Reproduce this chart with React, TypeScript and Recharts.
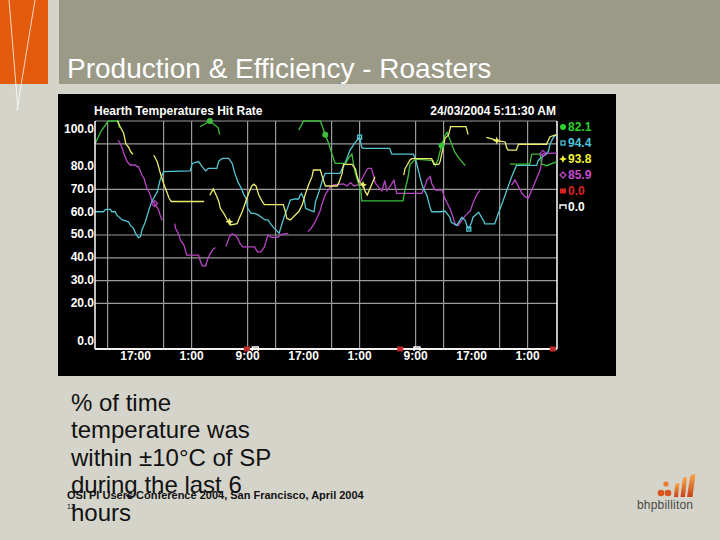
import React from 'react';
import { LineChart, Line, XAxis, YAxis, ReferenceLine } from 'recharts';

type Pt = [number, number | null];
type Shape = 'circle' | 'box' | 'star' | 'diamond' | 'square' | 'cap';

// x = hours since window start (21/03/2004 11:11:30), y = hit rate %
const green: Pt[] = [
  [0, 90], [0.9, 95.7], [1.9, 100], [3.3, 100], [3.5, 97], [3.6, null],
  [15.0, 97.5], [16.4, 100], [17.6, 97], [17.8, 94], [17.9, null],
  [29.1, 96], [29.8, 100], [32.2, 100], [32.9, 94], [33.4, 90], [33.8, 86], [34.3, 81.4],
  [35.8, 81.4], [36.3, 84], [36.7, 85.5], [37.1, 78], [37.6, 73], [38.0, 69], [38.1, 65],
  [44.0, 65], [44.3, 70], [44.7, 75], [45.0, 81], [45.8, 83.3], [48.3, 82.6], [48.6, 80.4],
  [49.0, 83], [49.5, 89.2], [50.0, 93.6], [50.3, 95], [50.7, 92], [51.4, 86.3], [52.1, 83.3],
  [52.9, 80.4], [53.0, null],
  [59.3, 81.1], [62.1, 81.1], [62.4, 85.5], [63.6, 85.5], [63.8, 81.1], [64.5, 80.4], [65.9, 82.1], [66, 82.1],
];

const cyan: Pt[] = [
  [0, 60.2], [1.2, 60.2], [1.5, 61.2], [2.2, 61.2], [2.4, 60.2], [2.9, 60.2], [3.1, 58.8], [3.9, 56.6],
  [4.8, 55.8], [5.0, 54.4], [5.5, 52.9], [5.8, 50.7], [6.2, 48.8], [6.5, 49.3], [6.7, 52.2], [7.2, 55.8],
  [7.7, 61], [8.1, 64.6], [8.9, 69], [9.3, 74.1], [9.8, 77.8], [13.6, 78.1], [13.9, 81.4], [14.8, 82.2],
  [15.3, 80], [15.8, 78.1], [16.2, 79.2], [17.4, 79.2], [17.7, 82.5], [18.2, 83.6], [19.1, 83.6],
  [19.6, 81.4], [19.9, 77.8], [20.4, 73.4], [20.9, 70.5], [21.3, 67.5], [21.6, 66], [21.8, 61.7],
  [22.3, 59.5], [22.8, 59.5], [23.3, 58.8], [24.3, 56.6], [24.7, 56.6], [25.2, 54.4], [25.6, 52.9],
  [26.1, 51.5], [26.3, 50.7], [26.8, 55.8], [27.2, 59.5], [27.5, 61.7], [27.9, 65.3], [28.6, 65.8],
  [29.1, 65.8], [29.3, 67.5], [29.5, 68.2], [29.9, 65.3], [30.1, 61.7], [30.6, 61], [31.3, 60.2],
  [31.5, 64.6], [32.0, 69], [32.5, 74.1], [32.9, 77], [35.0, 77], [35.3, 79], [35.7, 81.3], [36.4, 87],
  [37.1, 90.3], [37.8, 92.9], [38.1, 88.5], [38.3, 88], [42.1, 88], [42.4, 85.5], [45.5, 85.5],
  [45.9, 82], [46.3, 77], [46.6, 73.4], [46.9, 70.5], [47.4, 67.5], [47.9, 61.7], [48.1, 60.2],
  [49.4, 60.2], [50.0, 60.5], [50.7, 57.8], [50.9, 55.6], [51.7, 54.2], [52.4, 57.8], [52.9, 56.3],
  [53.1, 54.2], [53.4, 52.6], [53.8, 55.6], [54.0, 57.8], [54.8, 60], [55.5, 56.3], [55.7, 54.9],
  [57.1, 54.9], [57.6, 59.3], [58.3, 65], [58.8, 69.4], [59.5, 75.3], [60.2, 80.5], [63.1, 80.5],
  [63.3, 82.6], [63.8, 84], [64.5, 85.5], [64.8, 87], [65.0, 89.9], [65.5, 92.9], [66, 94.4],
];

const yellow: Pt[] = [
  [3.2, 100], [3.6, 97.5], [4.1, 94.6], [4.4, 90], [4.8, 88.5], [5.1, 86.5], [5.4, 85.4], [5.5, null],
  [8.4, 85], [8.9, 82], [9.3, 77.5], [9.8, 72.6], [10.3, 68.5], [10.6, 66], [10.9, 64.7], [15.6, 64.7], [15.7, null],
  [16.4, 67.5], [16.9, 70.2], [17.3, 67.5], [17.7, 64.6], [17.9, 61.7], [18.4, 59.5], [18.9, 56.6],
  [19.2, 55.8], [19.4, 54.4], [20.3, 55], [20.6, 57.3], [21.0, 60], [21.4, 63.5], [21.9, 68], [22.4, 71.5],
  [22.7, 72.3], [23.0, 71.5], [23.4, 67.5], [23.9, 64.6], [24.2, 63.3], [26.9, 63.3], [27.2, 60.2],
  [27.4, 57.3], [27.9, 56.6], [28.6, 58.8], [29.1, 60.2], [29.6, 63.2], [30.0, 67.5], [30.5, 71.9],
  [31.0, 75.6], [31.2, 78.5], [32.2, 78.5], [32.4, 76.3], [32.7, 73.4], [32.9, 71.5], [34.6, 71.5],
  [34.9, 73.4], [35.3, 77], [35.5, 81], [36.7, 81], [37.2, 79], [37.4, 76.3], [37.7, 73.4], [38.3, 72],
  [38.6, 69], [38.9, 67.5], [39.3, 70.5], [39.6, 72.7], [40.0, 75.6], [40.1, null],
  [44.1, 76.3], [44.3, 79.2], [44.6, 80.7], [45.0, 82.9], [45.3, 83.5], [48.1, 83.5], [48.4, 81],
  [49.1, 81], [49.3, 82.2], [49.6, 86.5], [50.0, 92.4], [50.5, 93.9], [50.8, 97.5], [53.0, 97.5],
  [53.3, 94], [53.4, null],
  [55.9, 92.8], [56.7, 92.2], [57.4, 91.4], [58.6, 90.8], [58.8, 88.3], [59.0, 87.2], [60.2, 87.2],
  [60.5, 89.8], [64.5, 89.8], [65.0, 93.1], [65.7, 93.8], [66, 93.8],
];

const magenta: Pt[] = [
  [3.3, 91.5], [3.6, 90.2], [3.9, 88], [4.1, 85.8], [4.3, 84.4], [4.6, 82.2], [5.0, 80.7], [5.8, 80.7],
  [6.0, 80], [6.2, 80], [6.5, 77.8], [6.7, 76.3], [7.0, 74.9], [7.2, 72.7], [7.4, 70.5], [7.7, 69],
  [7.9, 67.5], [8.1, 65.3], [8.5, 63.8], [9.1, 61], [9.3, 58.8], [9.6, 56.5], [9.7, null],
  [11.4, 55], [11.5, 52.9], [12.0, 50], [12.2, 47.8], [12.7, 45.6], [12.9, 43.4], [13.1, 41.2],
  [14.8, 41.2], [15.0, 39], [15.3, 36.5], [15.8, 36.5], [16.1, 39.5], [16.4, 41.5], [16.8, 43.5],
  [17.2, 44.5], [17.3, null],
  [18.7, 45], [19.2, 49.2], [19.6, 50.5], [20.0, 50], [20.4, 48.5], [20.7, 46.3], [21.1, 44.8],
  [22.8, 44.8], [23.2, 42.6], [23.7, 42.6], [24.2, 44.8], [24.7, 50], [25.2, 49], [26.1, 49],
  [26.6, 50.3], [27.6, 50.7], [27.7, null],
  [30.4, 51.5], [30.9, 53], [31.4, 55.5], [31.9, 58.8], [32.2, 61], [32.4, 63.2], [32.7, 66.1],
  [33.0, 68.3], [33.5, 70.5], [34.1, 72], [35.5, 72.4], [36.0, 71.5], [36.5, 73], [37.0, 71.5],
  [37.6, 72], [38.2, 75], [38.8, 78.5], [39.0, 79.2], [39.5, 79.2], [39.8, 76], [40.0, 73], [40.5, 71],
  [41.0, 69.4], [41.4, 73.9], [41.7, 69.4], [42.2, 71.5], [42.7, 74], [43.1, 68.3], [46.7, 68.3],
  [47.2, 71.9], [47.4, 74.1], [47.9, 75.6], [48.1, 72.6], [48.6, 69.7], [49.6, 69.7], [49.9, 66.5],
  [50.3, 64], [50.8, 61], [51.2, 57.3], [51.5, 54.4], [51.9, 54.2], [52.4, 56.5], [52.9, 58.5],
  [53.6, 60.5], [54.0, 64], [54.5, 67.5], [55.0, 69.6], [55.1, null],
  [59.5, 71.9], [60.0, 74.1], [60.5, 71.2], [61.0, 68.3], [61.4, 66.8], [61.9, 66.1], [62.1, 67.5],
  [62.6, 71.2], [63.1, 74.9], [63.6, 78.5], [63.8, 82.2], [64.0, 85.8], [66, 85.9],
];

const redZero: Pt[] = [[0, 0], [21.7, 0], [43.6, 0], [65.4, 0], [66, 0]];
const whiteZero: Pt[] = [[0, 0], [22.9, 0], [46.0, 0], [66, 0]];

// where each trace shows its marker symbol
const greenMarks = [16.4, 32.9, 49.5];
const cyanMarks = [37.8, 53.4];
const yellowMarks = [19.2, 38.3, 57.4];
const magentaMarks = [8.5, 64.0];
const redMarks = [21.7, 43.6, 65.4];
const whiteMarks = [22.9, 46.0];

const xTicks = [5.8, 13.8, 21.8, 29.8, 37.8, 45.8, 53.8, 61.8];
const xTickLabels = ['17:00', '1:00', '9:00', '17:00', '1:00', '9:00', '17:00', '1:00'];
const xGrid = [1.8, 9.8, 13.8, 21.8, 25.8, 33.8, 37.8, 45.8, 49.8, 57.8, 61.8];
const yTicks = [0, 20, 30, 40, 50, 60, 70, 80, 100];
const yGrid = [20, 30, 40, 50, 70, 90, 100];

const legendItems: { label: string; color: string; shape: Shape }[] = [
  { label: '82.1', color: '#2ed12e', shape: 'circle' },
  { label: '94.4', color: '#4cc4dc', shape: 'box' },
  { label: '93.8', color: '#f2f23a', shape: 'star' },
  { label: '85.9', color: '#c64ccc', shape: 'diamond' },
  { label: '0.0', color: '#dd2222', shape: 'square' },
  { label: '0.0', color: '#ffffff', shape: 'cap' },
];

const C = {
  green: '#3cbf3c',
  cyan: '#52c6d2',
  yellow: '#ecec6e',
  magenta: '#b845c6',
  red: '#c42a2a',
  grid: '#9a9a9a',
};

const FONT = '"Liberation Sans", Arial, sans-serif';

const rows = (pts: Pt[]) => pts.map(([h, v]) => ({ h, v }));
const baseRows = rows(cyan);

function Marker({ shape, color, x, y }: { shape: Shape; color: string; x: number; y: number }) {
  switch (shape) {
    case 'circle':
      return <circle cx={x} cy={y} r={3} fill={color} />;
    case 'box':
      return <rect x={x - 2} y={y - 2} width={4} height={4} fill="none" stroke={color} strokeWidth={1.3} />;
    case 'star':
      return (
        <path
          d={`M${x},${y - 4} L${x + 1.2},${y - 1.2} L${x + 4},${y} L${x + 1.2},${y + 1.2} L${x},${y + 4} L${x - 1.2},${y + 1.2} L${x - 4},${y} L${x - 1.2},${y - 1.2} Z`}
          fill={color}
        />
      );
    case 'diamond':
      return <path d={`M${x},${y - 3} L${x + 3},${y} L${x},${y + 3} L${x - 3},${y} Z`} fill="none" stroke={color} strokeWidth={1.2} />;
    case 'square':
      return <rect x={x - 3} y={y - 2.5} width={6} height={5} fill={color} />;
    default:
      return <path d={`M${x - 3},${y + 2} V${y - 2} H${x + 3} V${y + 2}`} fill="none" stroke={color} strokeWidth={1.4} />;
  }
}

const makeDot = (marks: number[], shape: Shape, color: string) => (p: any) => {
  const key = `d-${shape}-${p.index}`;
  if (p.cx == null || p.cy == null || !p.payload || !marks.includes(p.payload.h)) return <g key={key} />;
  return (
    <g key={key}>
      <Marker shape={shape} color={color} x={p.cx} y={p.cy} />
    </g>
  );
};

const XTick = (props: any) => {
  const { x, y, payload } = props;
  const i = xTicks.indexOf(payload.value);
  return (
    <text x={x} y={y + 11} textAnchor="middle" fill="#fff" fontSize={12} fontWeight="bold" fontFamily={FONT}>
      {xTickLabels[i]}
    </text>
  );
};

const YTick = (props: any) => {
  const { x, y, payload } = props;
  const v = payload.value;
  const shift = v === 100 ? 8 : v === 0 ? -8.5 : -1;
  return (
    <text x={x - 1} y={y + shift + 4.3} textAnchor="end" fill="#fff" fontSize={12} fontWeight="bold" fontFamily={FONT}>
      {v.toFixed(1)}
    </text>
  );
};

function LegendMark({ shape, color }: { shape: Shape; color: string }) {
  return (
    <svg width={8} height={10} style={{ display: 'block' }}>
      <Marker shape={shape} color={color} x={4} y={5} />
    </svg>
  );
}

function Logo() {
  return (
    <div style={{ position: 'absolute', left: 634, top: 470, width: 70, height: 44 }}>
      <svg width={70} height={30} style={{ position: 'absolute', left: 0, top: 0 }}>
        <defs>
          <linearGradient id="bhp" x1="0" y1="0" x2="0" y2="1">
            <stop offset="0" stopColor="#f6a64a" />
            <stop offset="1" stopColor="#c9421a" />
          </linearGradient>
        </defs>
        <circle cx={32} cy={14} r={2.6} fill="#e97a2c" />
        <circle cx={27} cy={23} r={3.3} fill="#d9561c" />
        <circle cx={34} cy={23} r={3.3} fill="#d9561c" />
        <path d="M40,27 L41,16 Q41.5,13 44,13 L45.5,13 L44,27 Z" fill="url(#bhp)" />
        <path d="M46.5,27 L48.5,10 Q49,7 51.5,7 L53,7 L51,27 Z" fill="url(#bhp)" />
        <path d="M53,27 L56,7 Q57,4 60,4 L61.5,4 L58.5,27 Z" fill="url(#bhp)" />
      </svg>
      <div
        style={{
          position: 'absolute',
          left: 3,
          top: 28,
          fontFamily: FONT,
          fontSize: 12,
          color: '#4a4a48',
          letterSpacing: 0.2,
          whiteSpace: 'nowrap',
        }}
      >
        bhpbilliton
      </div>
    </div>
  );
}

export default function App() {
  return (
    <div
      style={{
        position: 'absolute',
        left: 0,
        top: 0,
        width: 720,
        height: 540,
        background: '#d5d4ca',
        overflow: 'hidden',
        fontFamily: FONT,
      }}
    >
      {/* header band */}
      <div style={{ position: 'absolute', left: 0, top: 0, width: 48, height: 84, background: '#e45a0c' }} />
      <div style={{ position: 'absolute', left: 59, top: 0, width: 661, height: 84, background: '#9b9a87' }} />
      <svg width={48} height={110} style={{ position: 'absolute', left: 0, top: 0 }}>
        <line x1={9} y1={0} x2={18} y2={110} stroke="#fff" strokeOpacity={0.75} strokeWidth={1} />
        <line x1={35} y1={0} x2={17} y2={110} stroke="#fff" strokeOpacity={0.75} strokeWidth={1} />
      </svg>
      <div
        style={{
          position: 'absolute',
          left: 67,
          top: 53,
          fontSize: 28,
          lineHeight: '32px',
          color: '#ffffff',
          whiteSpace: 'nowrap',
        }}
      >
        Production &amp; Efficiency - Roasters
      </div>

      {/* PI trend display */}
      <div style={{ position: 'absolute', left: 58, top: 94, width: 558, height: 282, background: '#000' }}>
        <LineChart width={558} height={282} data={baseRows} margin={{ top: 27, right: 59, bottom: 0, left: 0 }}>
          <XAxis
            dataKey="h"
            type="number"
            domain={[0, 66]}
            ticks={xTicks}
            interval={0}
            tick={<XTick />}
            tickLine={false}
            tickSize={0}
            tickMargin={0}
            height={27}
            axisLine={{ stroke: '#fff', strokeWidth: 1.5 }}
          />
          <YAxis
            type="number"
            domain={[0, 100]}
            ticks={yTicks}
            interval={0}
            tick={<YTick />}
            tickLine={false}
            tickSize={0}
            tickMargin={0}
            width={37}
            axisLine={{ stroke: '#fff', strokeWidth: 1.5 }}
          />
          {yGrid.map((v) => (
            <ReferenceLine key={`gy-${v}`} y={v} stroke={C.grid} strokeWidth={1.2} ifOverflow="visible" />
          ))}
          {xGrid.map((h) => (
            <ReferenceLine key={`gx-${h}`} x={h} stroke={C.grid} strokeWidth={1.2} ifOverflow="visible" />
          ))}
          <ReferenceLine x={66} stroke="#fff" strokeWidth={1.5} />
          <Line data={rows(magenta)} dataKey="v" stroke={C.magenta} strokeWidth={1.3} dot={makeDot(magentaMarks, 'diamond', C.magenta)} activeDot={false} isAnimationActive={false} />
          <Line data={rows(cyan)} dataKey="v" stroke={C.cyan} strokeWidth={1.3} dot={makeDot(cyanMarks, 'box', C.cyan)} activeDot={false} isAnimationActive={false} />
          <Line data={rows(green)} dataKey="v" stroke={C.green} strokeWidth={1.3} dot={makeDot(greenMarks, 'circle', C.green)} activeDot={false} isAnimationActive={false} />
          <Line data={rows(yellow)} dataKey="v" stroke={C.yellow} strokeWidth={1.3} dot={makeDot(yellowMarks, 'star', C.yellow)} activeDot={false} isAnimationActive={false} />
          <Line data={rows(redZero)} dataKey="v" stroke={C.red} strokeWidth={1} dot={makeDot(redMarks, 'square', C.red)} activeDot={false} isAnimationActive={false} />
          <Line data={rows(whiteZero)} dataKey="v" stroke="#fff" strokeWidth={1.5} dot={makeDot(whiteMarks, 'cap', '#fff')} activeDot={false} isAnimationActive={false} />
        </LineChart>

        <div
          style={{
            position: 'absolute',
            left: 36,
            top: 10,
            fontSize: 12,
            lineHeight: '14px',
            fontWeight: 'bold',
            color: '#fff',
            whiteSpace: 'nowrap',
          }}
        >
          Hearth Temperatures Hit Rate
        </div>
        <div
          style={{
            position: 'absolute',
            right: 60,
            top: 10,
            fontSize: 12,
            lineHeight: '14px',
            fontWeight: 'bold',
            color: '#fff',
            whiteSpace: 'nowrap',
          }}
        >
          24/03/2004 5:11:30 AM
        </div>
        {legendItems.map((it, i) => (
          <div
            key={i}
            style={{
              position: 'absolute',
              left: 501,
              top: 26 + i * 16,
              height: 14,
              display: 'flex',
              alignItems: 'center',
              gap: 1,
              fontSize: 12,
              fontWeight: 'bold',
              color: it.color,
              whiteSpace: 'nowrap',
            }}
          >
            <LegendMark shape={it.shape} color={it.color} />
            <span>{it.label}</span>
          </div>
        ))}
      </div>

      {/* slide text */}
      <div
        style={{
          position: 'absolute',
          left: 71,
          top: 389,
          width: 240,
          fontSize: 24,
          lineHeight: '27.4px',
          color: '#111',
        }}
      >
        % of time
        <br />
        temperature was
        <br />
        within ±10°C of SP
        <br />
        during the last 6
        <br />
        hours
      </div>
      <div
        style={{
          position: 'absolute',
          left: 67,
          top: 489,
          fontSize: 11,
          lineHeight: '13px',
          fontWeight: 'bold',
          color: '#111',
          whiteSpace: 'nowrap',
        }}
      >
        OSI PI Users Conference 2004, San Francisco, April 2004
      </div>
      <div style={{ position: 'absolute', left: 67, top: 503, fontSize: 7, lineHeight: '8px', color: '#111' }}>12</div>
      <Logo />
    </div>
  );
}
